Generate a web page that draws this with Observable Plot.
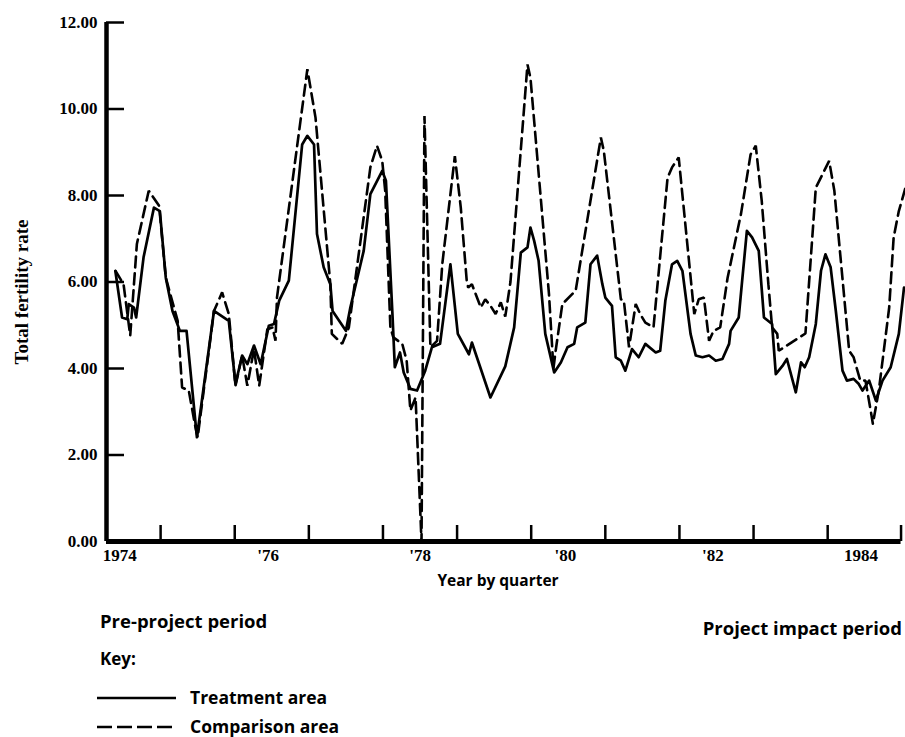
<!DOCTYPE html>
<html><head><meta charset="utf-8">
<script src="https://cdn.jsdelivr.net/npm/d3@7"></script>
<script src="https://cdn.jsdelivr.net/npm/@observablehq/plot@0.6"></script>
<style>
body{margin:0;background:#fff;}
#wrap{position:relative;width:905px;height:737px;font-family:"Open Sans",sans-serif;color:#000;overflow:hidden;}
#chart{position:absolute;left:0;top:0;}
.t{position:absolute;font-weight:bold;font-size:17px;line-height:20px;white-space:nowrap;}
</style></head><body>
<div id="wrap"><div id="chart"></div>
<div class="t" id="ylab" style="left:22px;top:292px;transform:translate(-50%,-50%) rotate(-90deg);font-family:'Liberation Serif',serif;font-size:19px">Total fertility rate</div>
<div class="t" style="left:498px;top:570px;transform:translateX(-50%);font-size:15.5px">Year by quarter</div>
<div class="t" style="left:100px;top:611px;font-size:18.5px">Pre-project period</div>
<div class="t" style="right:3px;top:618px;font-size:18.5px">Project impact period</div>
<div class="t" style="left:100px;top:649px;font-size:17px">Key:</div>
<svg style="position:absolute;left:96px;top:690px" width="82" height="16"><line x1="1" x2="80" y1="8" y2="8" stroke="#000" stroke-width="2.6"/></svg>
<div class="t" style="left:190px;top:687px;font-size:17.5px">Treatment area</div>
<svg style="position:absolute;left:96px;top:719px" width="82" height="16"><line x1="1" x2="80" y1="8" y2="8" stroke="#000" stroke-width="2.6" stroke-dasharray="15,5"/></svg>
<div class="t" style="left:190px;top:716px;font-size:17.5px">Comparison area</div>
</div>
<script>
// Treatment area (solid) — decimal year, total fertility rate
const treatYear = [1974.39,1974.48,1974.55,1974.57,1974.64,1974.67,1974.77,1974.91,1974.99,1975.07,1975.16,1975.26,1975.35,1975.49,1975.72,1975.92,1976.01,1976.10,1976.17,1976.26,1976.35,1976.46,1976.53,1976.60,1976.73,1976.91,1976.98,1977.07,1977.11,1977.20,1977.29,1977.32,1977.50,1977.56,1977.74,1977.83,1977.99,1978.04,1978.13,1978.16,1978.23,1978.28,1978.37,1978.46,1978.57,1978.66,1978.77,1978.91,1979.01,1979.16,1979.20,1979.45,1979.65,1979.77,1979.86,1979.95,1979.99,1980.04,1980.10,1980.19,1980.31,1980.40,1980.49,1980.58,1980.62,1980.73,1980.80,1980.89,1980.96,1981.00,1981.09,1981.14,1981.21,1981.27,1981.36,1981.45,1981.54,1981.68,1981.74,1981.81,1981.90,1981.97,1982.04,1982.15,1982.22,1982.31,1982.40,1982.49,1982.58,1982.67,1982.69,1982.80,1982.85,1982.91,1982.98,1983.07,1983.14,1983.25,1983.30,1983.39,1983.45,1983.57,1983.64,1983.69,1983.75,1983.84,1983.91,1983.97,1984.04,1984.11,1984.20,1984.26,1984.35,1984.42,1984.47,1984.56,1984.65,1984.74,1984.85,1984.96,1985.03];
const treatRate = [6.25,5.18,5.14,5.49,5.41,5.18,6.57,7.72,7.64,6.10,5.33,4.87,4.87,2.41,5.33,5.10,3.64,4.30,4.10,4.53,4.10,4.99,5.03,5.57,6.03,9.18,9.38,9.18,7.11,6.34,5.95,5.33,4.87,5.41,6.72,8.03,8.57,8.34,5.18,4.03,4.37,3.91,3.53,3.49,3.95,4.49,4.57,6.41,4.80,4.33,4.60,3.33,4.05,4.95,6.68,6.80,7.26,6.95,6.49,4.80,3.91,4.14,4.49,4.57,4.95,5.06,6.41,6.61,5.95,5.64,5.45,4.26,4.18,3.95,4.45,4.26,4.57,4.37,4.41,5.57,6.41,6.49,6.26,4.80,4.30,4.26,4.30,4.18,4.22,4.57,4.87,5.18,6.10,7.18,7.03,6.72,5.18,5.03,3.87,4.06,4.22,3.45,4.14,4.03,4.26,5.03,6.26,6.64,6.34,5.33,3.95,3.72,3.76,3.64,3.49,3.72,3.26,3.72,4.03,4.80,5.87];
// Comparison area (dashed)
const compYear = [1974.39,1974.50,1974.59,1974.68,1974.84,1974.98,1975.07,1975.23,1975.29,1975.38,1975.47,1975.50,1975.72,1975.83,1975.92,1976.01,1976.10,1976.17,1976.26,1976.33,1976.44,1976.51,1976.55,1976.57,1976.98,1977.09,1977.29,1977.31,1977.45,1977.54,1977.83,1977.92,1977.99,1978.03,1978.10,1978.14,1978.26,1978.32,1978.37,1978.44,1978.52,1978.56,1978.64,1978.73,1978.80,1978.97,1979.05,1979.13,1979.15,1979.20,1979.32,1979.38,1979.45,1979.52,1979.59,1979.65,1979.72,1979.95,1979.99,1980.24,1980.30,1980.33,1980.42,1980.60,1980.94,1980.98,1981.21,1981.25,1981.32,1981.41,1981.47,1981.54,1981.65,1981.84,1981.90,1981.99,1982.20,1982.26,1982.33,1982.40,1982.46,1982.55,1982.65,1982.83,1982.96,1983.03,1983.11,1983.20,1983.25,1983.32,1983.34,1983.70,1983.84,1984.02,1984.09,1984.29,1984.35,1984.44,1984.51,1984.58,1984.61,1984.69,1984.83,1984.89,1984.96,1985.05];
const compRate = [6.26,5.95,4.76,6.88,8.11,7.76,6.10,5.10,3.56,3.49,2.64,2.41,5.33,5.76,5.26,3.60,4.30,3.60,4.45,3.60,4.91,4.95,4.64,5.64,10.92,9.80,5.95,4.80,4.57,4.95,8.65,9.15,8.80,8.11,4.95,4.72,4.57,4.18,3.03,3.33,0.00,9.84,4.49,4.64,6.41,8.91,7.72,6.03,5.87,5.95,5.41,5.60,5.45,5.26,5.53,5.20,6.00,11.03,10.72,5.72,4.00,4.41,5.49,5.80,9.34,9.03,5.60,5.57,4.49,5.49,5.26,5.06,4.95,8.41,8.65,8.88,5.26,5.60,5.64,4.64,4.87,4.95,6.10,7.57,8.95,9.15,7.88,5.95,4.95,4.80,4.41,4.81,8.18,8.80,8.11,4.41,4.26,3.72,3.72,3.03,2.72,3.49,5.41,7.03,7.64,8.18];

const yTicks = [0, 2, 4, 6, 8, 10, 12];
const xTickYears = [1975, 1976, 1977, 1978, 1979, 1980, 1981, 1982, 1983, 1984];
const xLabelPos = [1974.45, 1976.45, 1978.5, 1980.46, 1982.45, 1984.45];
const xLabels = ["1974", "'76", "'78", "'80", "'82", "1984"];
const xStart = 1974.27, xAxisEnd = 1984.99, xEnd = 1985.05;

const treat = treatYear.map((t, i) => ({t, v: treatRate[i]}));
const comp = compYear.map((t, i) => ({t, v: compRate[i]}));

const W = 905, H = 600, ML = 106, MR = 0, MT = 22, MB = 59;
const frameH = H - MT - MB, frameW = W - ML - MR;

const chart = Plot.plot({
  width: W, height: H,
  marginLeft: ML, marginRight: MR, marginTop: MT, marginBottom: MB,
  style: {fontFamily: "Liberation Serif, serif", fontSize: "17px", color: "#000", background: "transparent"},
  x: {domain: [xStart, xEnd], axis: null},
  y: {domain: [0, 12], axis: null},
  marks: [
    Plot.line(comp, {x: "t", y: "v", stroke: "#000", strokeWidth: 2.6, strokeDasharray: "11,6", strokeLinejoin: "miter"}),
    Plot.line(treat, {x: "t", y: "v", stroke: "#000", strokeWidth: 2.7, strokeLinejoin: "round"}),
    Plot.ruleX([xStart], {y1: 0, y2: 12, stroke: "#000", strokeWidth: 4.5}),
    Plot.ruleY([0], {x1: xStart, x2: xAxisEnd, stroke: "#000", strokeWidth: 5}),
    Plot.tickY(yTicks.filter(d => d > 0), {y: d => d, stroke: "#000", strokeWidth: 2.5, insetRight: frameW - 18}),
    Plot.tickX(xTickYears.concat([xAxisEnd]), {x: d => d, stroke: "#000", strokeWidth: 2.5, insetTop: frameH - 16}),
    Plot.axisY({ticks: yTicks, tickFormat: d3.format(".2f"), tickSize: 0, tickPadding: 9, fontWeight: "bold", fontSize: 17, label: null}),
    Plot.text(xLabelPos, {x: d => d, frameAnchor: "bottom", dy: 19, text: (d, i) => xLabels[i], fontWeight: "bold", fontSize: 17})
  ]
});
document.getElementById("chart").appendChild(chart);
</script>
</body></html>
